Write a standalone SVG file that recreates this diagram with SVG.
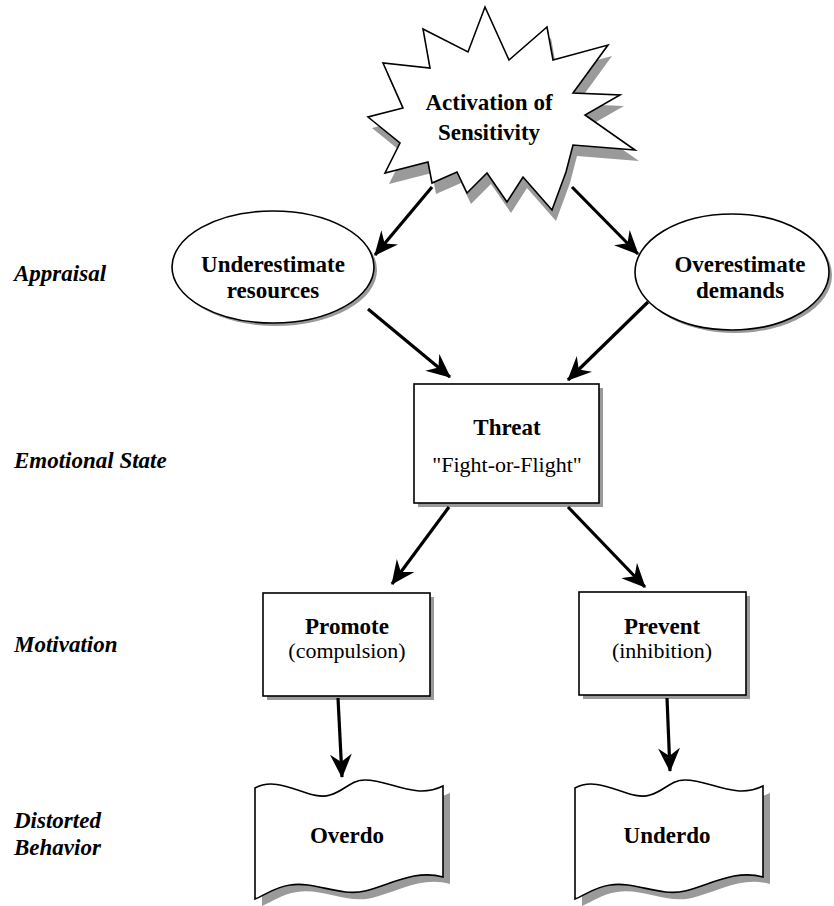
<svg xmlns="http://www.w3.org/2000/svg" width="834" height="906" viewBox="0 0 834 906">
<style>
.b{font-family:"Liberation Serif","Times New Roman",serif;font-weight:bold;font-size:23px;fill:#000;text-anchor:middle}
.r{font-family:"Liberation Serif","Times New Roman",serif;font-size:22px;fill:#000;text-anchor:middle}
.lab{font-family:"Liberation Serif","Times New Roman",serif;font-weight:bold;font-style:italic;font-size:23px;fill:#000}
.sh{fill:#9a9a9a;stroke:none}
.shape{fill:#fff;stroke:#000;stroke-width:1.6}
.con{stroke:#000;stroke-width:3.2;fill:none;marker-end:url(#ah)}
</style>
<defs>
<marker id="ah" viewBox="0 0 24 22" refX="23" refY="11" markerWidth="24" markerHeight="22" markerUnits="userSpaceOnUse" orient="auto">
<path d="M0,0 L24,11 L0,22 L8,11 Z" fill="#000"/>
</marker>
<path id="doc" d="M0,2 C25,-12 55,16 75,9 C90,5 95,-6 110,-6 C135,-6 160,14 188,0 L188,91 C160,83 135,99 110,105 C85,111 60,95 35,99 C20,101 8,110 0,113 Z"/>
</defs>
<rect width="834" height="906" fill="#fff"/>

<g id="labels">
<text class="lab" x="14" y="281">Appraisal</text>
<text class="lab" x="14" y="468">Emotional State</text>
<text class="lab" x="14" y="652">Motivation</text>
<text class="lab" x="14" y="828">Distorted</text>
<text class="lab" x="14" y="855">Behavior</text>
</g>

<g id="activation">
<polygon class="sh" transform="translate(4,11)" points="485,7 509,60 547,27 553,60 608,45 573,93 620,95 585,115 635,150 573,145 566,172 552,210 523,177 507,202 487,173 467,193 457,172 432,183 428,162 385,173 400,143 368,117 403,108 383,63 430,68 423,29 468,52"/>
<polygon class="shape" points="485,7 509,60 547,27 553,60 608,45 573,93 620,95 585,115 635,150 573,145 566,172 552,210 523,177 507,202 487,173 467,193 457,172 432,183 428,162 385,173 400,143 368,117 403,108 383,63 430,68 423,29 468,52"/>
<text class="b" x="489" y="110">Activation of</text>
<text class="b" x="489" y="140">Sensitivity</text>
</g>

<g id="underestimate">
<ellipse class="sh" cx="276" cy="270" rx="101" ry="56"/>
<ellipse class="shape" cx="273" cy="267" rx="101" ry="56"/>
<text class="b" x="273" y="272">Underestimate</text>
<text class="b" x="273" y="298">resources</text>
</g>

<g id="overestimate">
<ellipse class="sh" cx="735" cy="275" rx="97" ry="58"/>
<ellipse class="shape" cx="732" cy="272" rx="97" ry="58"/>
<text class="b" x="740" y="272">Overestimate</text>
<text class="b" x="740" y="298">demands</text>
</g>

<g id="threat">
<rect class="sh" x="418" y="388" width="185" height="119"/>
<rect class="shape" x="414" y="384" width="185" height="119"/>
<text class="b" x="507" y="435">Threat</text>
<text class="r" x="507" y="472">"Fight-or-Flight"</text>
</g>

<g id="promote">
<rect class="sh" x="267" y="597" width="167" height="103"/>
<rect class="shape" x="263" y="593" width="167" height="103"/>
<text class="b" x="347" y="634">Promote</text>
<text class="r" x="347" y="658">(compulsion)</text>
</g>

<g id="prevent">
<rect class="sh" x="583" y="596" width="167" height="103"/>
<rect class="shape" x="579" y="592" width="167" height="103"/>
<text class="b" x="662" y="634">Prevent</text>
<text class="r" x="662" y="658">(inhibition)</text>
</g>

<g id="overdo">
<use href="#doc" class="sh" transform="translate(262,793)"/>
<use href="#doc" class="shape" transform="translate(255,786)"/>
<text class="b" x="347" y="843">Overdo</text>
</g>

<g id="underdo">
<use href="#doc" class="sh" transform="translate(582,793)"/>
<use href="#doc" class="shape" transform="translate(575,786)"/>
<text class="b" x="667" y="843">Underdo</text>
</g>

<g id="connectors">
<line class="con" x1="432" y1="187" x2="375" y2="255"/>
<line class="con" x1="572" y1="187" x2="638" y2="254"/>
<line class="con" x1="368" y1="309" x2="450" y2="377"/>
<line class="con" x1="648" y1="302" x2="568" y2="380"/>
<line class="con" x1="449" y1="507" x2="392" y2="584"/>
<line class="con" x1="568" y1="507" x2="645" y2="587"/>
<line class="con" x1="338" y1="698" x2="342" y2="777"/>
<line class="con" x1="667" y1="698" x2="670" y2="771"/>
</g>
</svg>
